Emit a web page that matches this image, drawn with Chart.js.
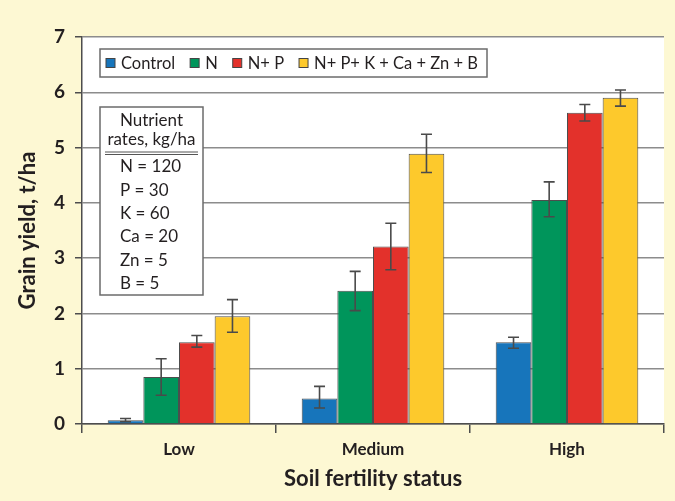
<!DOCTYPE html>
<html>
<head>
<meta charset="utf-8">
<script src="https://cdn.jsdelivr.net/npm/chart.js@4/dist/chart.umd.min.js"></script>
<style>
  html, body { margin: 0; padding: 0; background: #fdf8d3; }
  #wrap { width: 675px; height: 501px; }
</style>
</head>
<body>
<div id="wrap"><canvas id="yieldChart" width="675" height="501"></canvas></div>
<script>
const categories = ['Low', 'Medium', 'High'];
const seriesNames = ['Control', 'N', 'N+ P', 'N+ P+ K + Ca + Zn + B'];
const controlYield = [0.07, 0.46, 1.48];
const nYield = [0.85, 2.41, 4.05];
const npYield = [1.48, 3.21, 5.63];
const allYield = [1.95, 4.89, 5.90];
const controlErr = [[0.04, 0.10], [0.29, 0.68], [1.37, 1.57]];
const nErr = [[0.52, 1.18], [2.05, 2.76], [3.75, 4.38]];
const npErr = [[1.39, 1.60], [2.79, 3.63], [5.48, 5.78]];
const allErr = [[1.66, 2.25], [4.55, 5.24], [5.75, 6.04]];
const yTicks = [0, 1, 2, 3, 4, 5, 6, 7];
const nutrientRates = ['N = 120', 'P = 30', 'K = 60', 'Ca = 20', 'Zn = 5', 'B = 5'];

const barColors = ['#1775bb', '#00955b', '#e3312b', '#fdc92c'];
const textColor = '#231f20';
const fontFamily = 'Lato, "Open Sans", sans-serif';

// cream page, white plotting area
const backgroundPlugin = {
  id: 'background',
  beforeDraw(chart) {
    const {ctx, chartArea} = chart;
    ctx.save();
    ctx.fillStyle = '#fdf8d3';
    ctx.fillRect(0, 0, chart.width, chart.height);
    ctx.fillStyle = '#ffffff';
    ctx.fillRect(chartArea.left, chartArea.top, chartArea.right - chartArea.left, chartArea.bottom - chartArea.top);
    ctx.restore();
  }
};

const errorBarPlugin = {
  id: 'errorBars',
  afterDatasetsDraw(chart) {
    const {ctx} = chart;
    const yScale = chart.scales.y;
    ctx.save();
    ctx.strokeStyle = '#4a4a4a';
    ctx.lineWidth = 1.6;
    chart.data.datasets.forEach((ds, di) => {
      const meta = chart.getDatasetMeta(di);
      meta.data.forEach((bar, i) => {
        const [lo, hi] = ds.errors[i];
        const yLo = yScale.getPixelForValue(lo);
        const yHi = yScale.getPixelForValue(hi);
        const x = bar.x;
        ctx.beginPath();
        ctx.moveTo(x, yLo); ctx.lineTo(x, yHi);
        ctx.moveTo(x - 5.5, yLo); ctx.lineTo(x + 5.5, yLo);
        ctx.moveTo(x - 5.5, yHi); ctx.lineTo(x + 5.5, yHi);
        ctx.stroke();
      });
    });
    ctx.restore();
  }
};

// legend strip and nutrient box drawn inside the plot
const insetPlugin = {
  id: 'insets',
  afterDraw(chart) {
    const {ctx, chartArea} = chart;
    ctx.save();
    // legend
    const lx = chartArea.left + 18, ly = chartArea.top + 12;
    ctx.fillStyle = '#ffffff';
    ctx.fillRect(lx, ly, 387, 28);
    ctx.strokeStyle = '#6b6b6b';
    ctx.lineWidth = 1.5;
    ctx.strokeRect(lx, ly, 387, 28);
    ctx.font = '16.5px ' + fontFamily;
    ctx.textBaseline = 'middle';
    let x = lx + 6;
    const cy = ly + 14;
    chart.data.datasets.forEach((ds, i) => {
      ctx.fillStyle = barColors[i];
      ctx.fillRect(x, cy - 4.5, 9, 9);
      ctx.strokeStyle = '#444';
      ctx.lineWidth = 1;
      ctx.strokeRect(x, cy - 4.5, 9, 9);
      ctx.fillStyle = textColor;
      ctx.fillText(ds.label, x + 15, cy + 1);
      x += 15 + ctx.measureText(ds.label).width + 15;
    });
    // nutrient rate box
    const bx = chartArea.left + 18, by = chartArea.top + 70, bw = 103, bh = 188;
    ctx.fillStyle = '#ffffff';
    ctx.fillRect(bx, by, bw, bh);
    ctx.strokeStyle = '#6b6b6b';
    ctx.lineWidth = 1.5;
    ctx.strokeRect(bx, by, bw, bh);
    ctx.fillStyle = textColor;
    ctx.textAlign = 'center';
    ctx.font = '17px ' + fontFamily;
    ctx.fillText('Nutrient', bx + bw / 2, by + 14);
    ctx.fillText('rates, kg/ha', bx + bw / 2, by + 33);
    ctx.strokeStyle = '#555';
    ctx.lineWidth = 1;
    ctx.beginPath();
    ctx.moveTo(bx + 5, by + 45); ctx.lineTo(bx + bw - 5, by + 45);
    ctx.moveTo(bx + 5, by + 47.5); ctx.lineTo(bx + bw - 5, by + 47.5);
    ctx.stroke();
    ctx.textAlign = 'left';
    nutrientRates.forEach((t, i) => {
      ctx.fillText(t, bx + 20, by + 60 + i * 23.3);
    });
    ctx.restore();
  }
};

const datasets = [controlYield, nYield, npYield, allYield].map((vals, i) => ({
  label: seriesNames[i],
  data: vals,
  errors: [controlErr, nErr, npErr, allErr][i],
  backgroundColor: barColors[i],
  borderColor: '#4d4d4d',
  borderWidth: 1,
  borderSkipped: 'bottom',
  categoryPercentage: 0.735,
  barPercentage: 1.0
}));

new Chart(document.getElementById('yieldChart'), {
  type: 'bar',
  data: { labels: categories, datasets: datasets },
  options: {
    responsive: false,
    animation: false,
    layout: { padding: { top: 37, right: 11, left: 0, bottom: 0 } },
    plugins: {
      legend: { display: false },
      tooltip: { enabled: false }
    },
    scales: {
      x: {
        offset: true,
        grid: {
          offset: true,
          drawOnChartArea: false,
          tickLength: 9,
          color: '#4d4d4d',
          lineWidth: 1.5
        },
        border: { color: '#4d4d4d', width: 1.5 },
        ticks: {
          color: textColor,
          padding: 6,
          font: { family: fontFamily, size: 17, weight: 'bold' }
        },
        title: {
          display: true,
          text: 'Soil fertility status',
          color: textColor,
          padding: { top: 2, bottom: 9 },
          font: { family: fontFamily, size: 22, weight: 'bold' }
        },
        afterFit(scale) { scale.height = 77; }
      },
      y: {
        min: 0,
        max: 7,
        afterBuildTicks(scale) { scale.ticks = yTicks.map(v => ({value: v})); },
        grid: {
          color: '#8c8c8c',
          lineWidth: 1.5,
          tickLength: 7,
          tickColor: '#4d4d4d'
        },
        border: { color: '#4d4d4d', width: 1.5 },
        ticks: {
          color: textColor,
          padding: 10,
          font: { family: fontFamily, size: 19, weight: 'bold' }
        },
        title: {
          display: true,
          text: 'Grain yield, t/ha',
          color: textColor,
          padding: { top: 15, bottom: 4 },
          font: { family: fontFamily, size: 22, weight: 'bold' }
        },
        afterFit(scale) { scale.width = 82; }
      }
    }
  },
  plugins: [backgroundPlugin, errorBarPlugin, insetPlugin]
});
</script>
</body>
</html>
